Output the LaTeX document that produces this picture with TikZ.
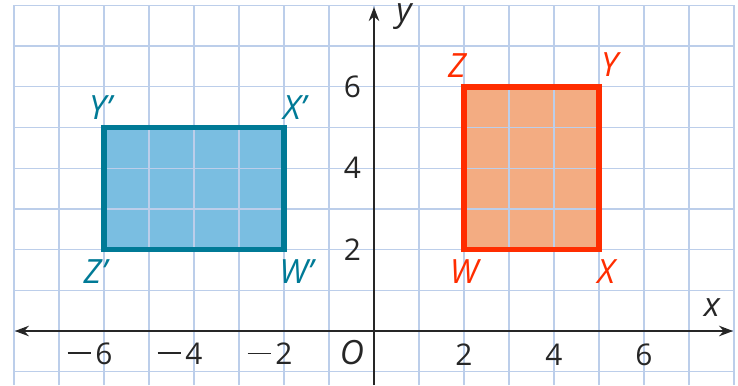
\documentclass[tikz,border=0pt]{standalone}
\usepackage{fontspec}
\setmainfont{Open Sans}
\definecolor{gridblue}{RGB}{188,206,234}
\definecolor{darkteal}{RGB}{0,122,150}
\definecolor{lightblue}{RGB}{122,190,225}
\definecolor{brightred}{RGB}{255,45,0}
\definecolor{peach}{RGB}{243,172,130}
\usetikzlibrary{arrows.meta, positioning}
\newcommand{\negsign}{\llap{\rule[0.34em]{0.78em}{0.065em}\hspace{0.15em}}}

\begin{document}
\begin{tikzpicture}[
  x=0.9cm, y=0.814cm,
  >={Stealth[length=8pt, width=6pt]},
  gridline/.style={gridblue, line width=0.7pt},
  axis/.style={line width=0.9pt, black!85},
  imgrect/.style={draw=darkteal, line width=3.2pt, line join=miter},
  prerect/.style={draw=brightred, line width=3.2pt, line join=miter},
  num/.style={font=\fontsize{17}{17}\selectfont, text=black!85, inner sep=0pt},
  imglbl/.style={font=\fontsize{19}{19}\selectfont\itshape, text=darkteal, inner sep=0pt},
  prelbl/.style={font=\fontsize{19}{19}\selectfont\itshape, text=brightred, inner sep=0pt},
  axlbl/.style={font=\fontsize{19}{19}\selectfont\itshape, text=black!85, inner sep=0pt}
]
\useasboundingbox (-8.311,-1.327) rectangle (8.089,8.133);

% corners
\coordinate (Wp) at (-2,2);
\coordinate (Xp) at (-2,5);
\coordinate (Yp) at (-6,5);
\coordinate (Zp) at (-6,2);
\coordinate (W) at (2,2);
\coordinate (X) at (5,2);
\coordinate (Y) at (5,6);
\coordinate (Z) at (2,6);

% fills under the grid
\fill[lightblue] (Zp) rectangle (Xp);
\fill[peach] (W) rectangle (Y);
\draw[gridline, step={(1,1)}] (-8,-1.327) grid (8,8);

% axes
\coordinate (xl) at (-7.98,0);
\coordinate (xr) at (7.98,0);
\coordinate (yb) at (0,-1.327);
\coordinate (yt) at (0,7.96);
\draw[axis, <->] (xl) -- (xr);
\draw[axis, ->] (yb) -- (yt);
\node[axlbl] (xlab) at (7.51,0.57) {x};
\node[axlbl] (ylab) at (0.67,7.72) {y};

% rectangles
\draw[imgrect] (Zp) -- (Wp) -- (Xp) -- (Yp) -- cycle;
\draw[prerect] (W) -- (X) -- (Y) -- (Z) -- cycle;

% ticks
\foreach \v in {-6,-4,-2}
  \node[num] (tx\v) at (\v,-0.56) {\negsign\the\numexpr-\v\relax};
\foreach \v in {2,4,6}
  \node[num] (tx\v) at (\v,-0.58) {\v};
\foreach \v in {2,4,6}
  \node[num] (ty\v) at (-0.48,\v) {\v};
\node[axlbl] (orig) at (-0.49,-0.52) {O};

% vertex labels
\node[imglbl, above=0.2 of Yp, xshift=-2pt] (lYp) {Y’};
\node[imglbl, above=0.2 of Xp, xshift=6pt] (lXp) {X’};
\node[imglbl, below=0.25 of Zp, xshift=-5pt] (lZp) {Z’};
\node[imglbl, below=0.25 of Wp, xshift=7pt] (lWp) {W’};
\node[prelbl, above=0.22 of Z, xshift=-4pt] (lZ) {Z};
\node[prelbl, above=0.25 of Y, xshift=6pt] (lY) {Y};
\node[prelbl, below=0.25 of W] (lW) {W};
\node[prelbl, below=0.25 of X, xshift=4pt] (lX) {X};
\end{tikzpicture}
\end{document}
